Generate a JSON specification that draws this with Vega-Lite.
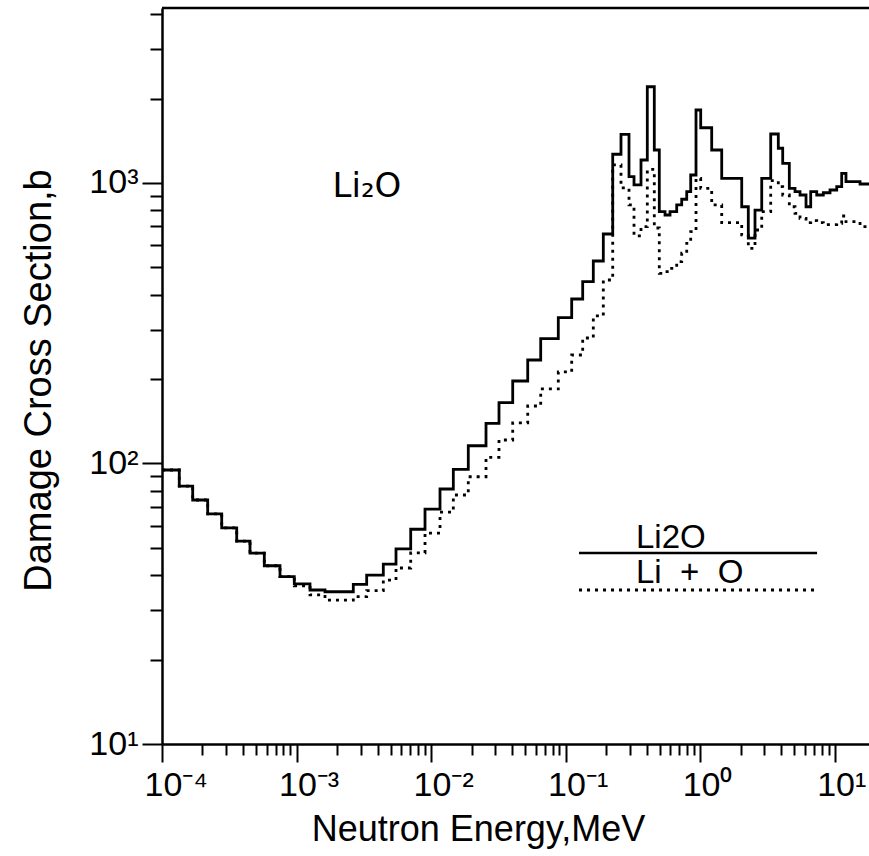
{
  "$schema": "https://vega.github.io/schema/vega-lite/v6.json",
  "width": 707,
  "height": 736,
  "autosize": {"type": "none"},
  "padding": {"left": 162, "top": 8, "right": 0, "bottom": 112},
  "background": "white",
  "config": {"view": {"stroke": null}, "font": "Liberation Sans"},
  "datasets": {
    "edges": [
      {"E": 0.0001, "li2o": 94.8, "lio": 94.8},
      {"E": 0.0001344, "li2o": 83.1, "lio": 83.1},
      {"E": 0.0001691, "li2o": 74.1, "lio": 74.1},
      {"E": 0.0002186, "li2o": 66.1, "lio": 66.1},
      {"E": 0.0002779, "li2o": 59.0, "lio": 59.0},
      {"E": 0.0003592, "li2o": 52.9, "lio": 52.9},
      {"E": 0.000451, "li2o": 47.9, "lio": 47.9},
      {"E": 0.000576, "li2o": 43.2, "lio": 43.2},
      {"E": 0.0007535, "li2o": 39.5, "lio": 39.5},
      {"E": 0.0009625, "li2o": 37.2, "lio": 36.6},
      {"E": 0.001259, "li2o": 35.4, "lio": 34.0},
      {"E": 0.001628, "li2o": 34.9, "lio": 32.6},
      {"E": 0.002103, "li2o": 34.9, "lio": 32.6},
      {"E": 0.002642, "li2o": 37.1, "lio": 33.5},
      {"E": 0.003322, "li2o": 40.0, "lio": 35.2},
      {"E": 0.004416, "li2o": 43.8, "lio": 38.4},
      {"E": 0.005488, "li2o": 49.6, "lio": 42.4},
      {"E": 0.007058, "li2o": 58.3, "lio": 48.0},
      {"E": 0.009016, "li2o": 68.8, "lio": 56.5},
      {"E": 0.011655, "li2o": 81.1, "lio": 67.1},
      {"E": 0.014637, "li2o": 95.3, "lio": 77.2},
      {"E": 0.01891, "li2o": 115.7, "lio": 89.7},
      {"E": 0.02561, "li2o": 139.1, "lio": 105.2},
      {"E": 0.03199, "li2o": 164.8, "lio": 121.3},
      {"E": 0.04045, "li2o": 196.8, "lio": 139.5},
      {"E": 0.0523, "li2o": 233.9, "lio": 160.3},
      {"E": 0.06531, "li2o": 278.6, "lio": 184.4},
      {"E": 0.08826, "li2o": 331.1, "lio": 212.0},
      {"E": 0.111, "li2o": 385.9, "lio": 243.7},
      {"E": 0.134, "li2o": 444.7, "lio": 280.2},
      {"E": 0.1607, "li2o": 527.2, "lio": 335.7},
      {"E": 0.1907, "li2o": 658, "lio": 451},
      {"E": 0.224, "li2o": 1266, "lio": 1160},
      {"E": 0.2581, "li2o": 1491, "lio": 960},
      {"E": 0.296, "li2o": 1053, "lio": 835},
      {"E": 0.3225, "li2o": 984, "lio": 647.6},
      {"E": 0.3635, "li2o": 1208, "lio": 698.8},
      {"E": 0.4049, "li2o": 2204, "lio": 1119},
      {"E": 0.4564, "li2o": 1311, "lio": 691},
      {"E": 0.4972, "li2o": 790, "lio": 476.6},
      {"E": 0.5483, "li2o": 769, "lio": 482.9},
      {"E": 0.5973, "li2o": 790, "lio": 496.5},
      {"E": 0.6697, "li2o": 835, "lio": 524.1},
      {"E": 0.7296, "li2o": 875, "lio": 561.7},
      {"E": 0.795, "li2o": 931, "lio": 609.6},
      {"E": 0.8511, "li2o": 1068, "lio": 670.7},
      {"E": 0.932, "li2o": 1821, "lio": 1039},
      {"E": 1.01, "li2o": 1574, "lio": 957},
      {"E": 1.219, "li2o": 1311, "lio": 835},
      {"E": 1.447, "li2o": 1039, "lio": 722.2},
      {"E": 2.038, "li2o": 823, "lio": 652.8},
      {"E": 2.281, "li2o": 635.5, "lio": 585.1},
      {"E": 2.558, "li2o": 801, "lio": 680},
      {"E": 2.87, "li2o": 1039, "lio": 790},
      {"E": 3.347, "li2o": 1495, "lio": 1019},
      {"E": 3.812, "li2o": 1330, "lio": 970},
      {"E": 4.11, "li2o": 1175, "lio": 906},
      {"E": 4.602, "li2o": 957, "lio": 823},
      {"E": 5.074, "li2o": 931, "lio": 779.8},
      {"E": 5.527, "li2o": 906, "lio": 748.3},
      {"E": 6.126, "li2o": 823, "lio": 722.2},
      {"E": 6.637, "li2o": 931, "lio": 733.9},
      {"E": 7.357, "li2o": 906, "lio": 722.2},
      {"E": 8.235, "li2o": 923, "lio": 710.2},
      {"E": 9.237, "li2o": 944, "lio": 710.2},
      {"E": 10.36, "li2o": 970, "lio": 718.4},
      {"E": 11.28, "li2o": 1083, "lio": 762.8},
      {"E": 12.14, "li2o": 1011, "lio": 727.8},
      {"E": 15.44, "li2o": 992, "lio": 698.8},
      {"E": 18, "li2o": 992, "lio": 698.8}
    ],
    "one": [{}]
  },
  "layer": [
    {
      "data": {"name": "edges"},
      "mark": {"type": "line", "interpolate": "step-after", "color": "black", "strokeWidth": 2.8, "strokeDash": [3, 5], "clip": true},
      "encoding": {
        "x": {
          "field": "E", "type": "quantitative",
          "scale": {"type": "log", "domain": [0.0001, 18], "nice": false},
          "axis": {
            "values": [0.0001,0.0002,0.0003,0.0004,0.0005,0.0006,0.0007,0.0008,0.0009,0.001,0.002,0.003,0.004,0.005,0.006,0.007,0.008,0.009,0.01,0.02,0.03,0.04,0.05,0.06,0.07,0.08,0.09,0.1,0.2,0.3,0.4,0.5,0.6,0.7,0.8,0.9,1,2,3,4,5,6,7,8,9,10],
            "title": "Neutron Energy,MeV",
            "titleFont": "Liberation Sans", "titleFontSize": 36, "titleFontWeight": "normal", "titleColor": "black",
            "titleX": 316, "titleY": 96, "titleAlign": "center", "titleBaseline": "alphabetic",
            "labelExpr": "abs(log(datum.value)/LN10 - round(log(datum.value)/LN10)) < 0.001 ? '10' + ({'-4':'⁻⁴','-3':'⁻³','-2':'⁻²','-1':'⁻¹','0':'⁰','1':'¹'})['' + round(log(datum.value)/LN10)] : ''",
            "labelFont": "Liberation Sans", "labelFontSize": 34, "labelColor": "black",
            "labelAlign": "left", "labelOffset": -18, "labelBaseline": "top", "labelPadding": 6,
            "labelOverlap": false, "labelBound": false, "labelFlush": false,
            "grid": false, "domainColor": "black", "domainWidth": 2.5,
            "tickColor": "black", "tickWidth": 2,
            "tickSize": {"condition": {"test": "abs(log(datum.value)/LN10 - round(log(datum.value)/LN10)) < 0.001", "value": 18}, "value": 11}
          }
        },
        "y": {
          "field": "lio", "type": "quantitative",
          "scale": {"type": "log", "domain": [10, 4206], "nice": false},
          "axis": {
            "values": [10,20,30,40,50,60,70,80,90,100,200,300,400,500,600,700,800,900,1000,2000,3000,4000],
            "title": "Damage Cross Section,b",
            "titleFont": "Liberation Sans", "titleFontSize": 38, "titleFontWeight": "normal", "titleColor": "black",
            "titleX": -123, "titleY": 372, "titleAngle": -90, "titleAlign": "center", "titleBaseline": "middle",
            "labelExpr": "abs(log(datum.value)/LN10 - round(log(datum.value)/LN10)) < 0.001 ? '10' + ({'1':'¹','2':'²','3':'³'})['' + round(log(datum.value)/LN10)] : ''",
            "labelFont": "Liberation Sans", "labelFontSize": 34, "labelColor": "black",
            "labelAlign": "right", "labelBaseline": "middle", "labelPadding": 4,
            "labelOverlap": false, "labelBound": false, "labelFlush": false,
            "grid": false, "domainColor": "black", "domainWidth": 2.5,
            "tickColor": "black", "tickWidth": 2,
            "tickSize": {"condition": {"test": "abs(log(datum.value)/LN10 - round(log(datum.value)/LN10)) < 0.001", "value": 20}, "value": 12}
          }
        }
      }
    },
    {
      "data": {"name": "edges"},
      "mark": {"type": "line", "interpolate": "step-after", "color": "black", "strokeWidth": 2.8, "clip": true},
      "encoding": {
        "x": {"field": "E", "type": "quantitative"},
        "y": {"field": "li2o", "type": "quantitative"}
      }
    },
    {
      "data": {"name": "one"},
      "mark": {"type": "rule", "color": "black", "strokeWidth": 2.5},
      "encoding": {"x": {"datum": 0.1258}, "x2": {"datum": 7.4}, "y": {"datum": 48}}
    },
    {
      "data": {"name": "one"},
      "mark": {"type": "rule", "color": "black", "strokeWidth": 2.8, "strokeDash": [3, 5]},
      "encoding": {"x": {"datum": 0.1258}, "x2": {"datum": 7.4}, "y": {"datum": 35.4}}
    },
    {
      "data": {"name": "one"},
      "mark": {"type": "text", "font": "Liberation Sans", "fontSize": 33, "align": "left", "baseline": "alphabetic", "color": "black"},
      "encoding": {"x": {"datum": 0.3338}, "y": {"datum": 50}, "text": {"value": "Li2O"}}
    },
    {
      "data": {"name": "one"},
      "mark": {"type": "text", "font": "Liberation Sans", "fontSize": 33, "align": "left", "baseline": "alphabetic", "color": "black"},
      "encoding": {"x": {"datum": 0.3338}, "y": {"datum": 37.5}, "text": {"value": "Li\u00a0\u00a0+\u00a0\u00a0O"}}
    },
    {
      "data": {"name": "one"},
      "mark": {"type": "text", "font": "DejaVu Sans", "fontSize": 34, "align": "center", "baseline": "alphabetic", "color": "black"},
      "encoding": {"x": {"datum": 0.00334}, "y": {"datum": 891}, "text": {"value": "Li₂O"}}
    },
    {
      "data": {"name": "one"},
      "mark": {"type": "rule", "color": "black", "strokeWidth": 2.5},
      "encoding": {"y": {"datum": 4206}}
    }
  ]
}
